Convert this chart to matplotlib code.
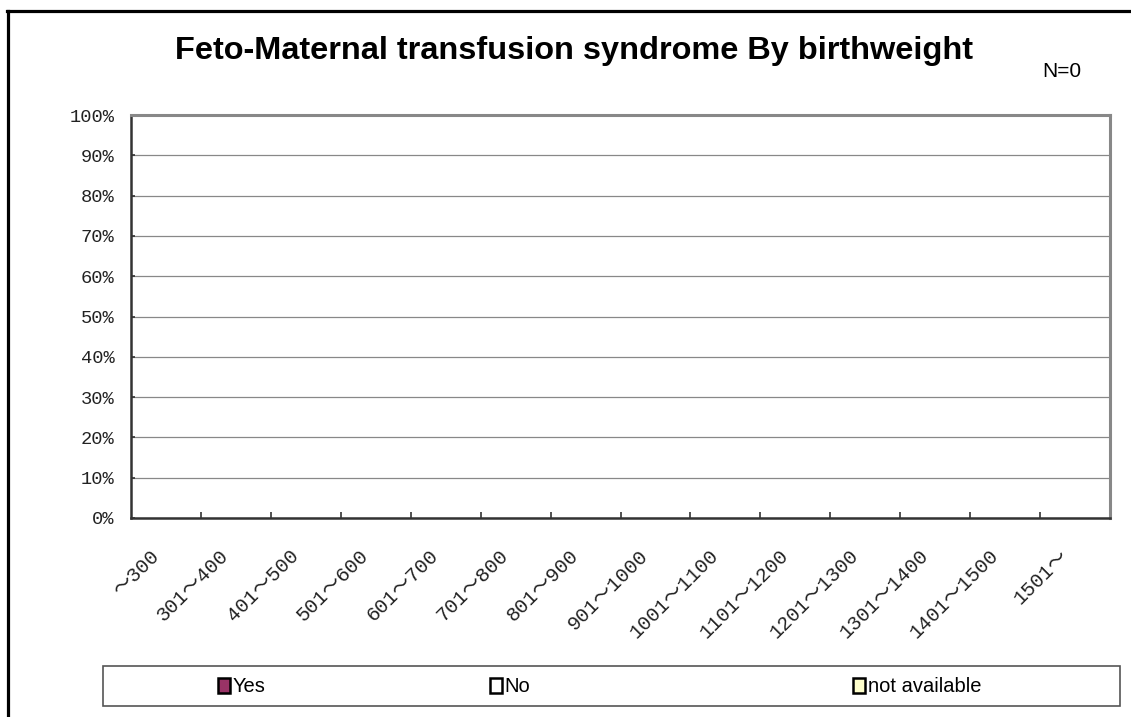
import matplotlib
matplotlib.use("Agg")
import matplotlib.pyplot as plt
from matplotlib.lines import Line2D
from matplotlib.patches import Rectangle, Patch
import matplotlib.transforms as mtransforms

# ---------------- data ----------------
categories = ["～300", "301～400", "401～500", "501～600", "601～700", "701～800",
              "801～900", "901～1000", "1001～1100", "1101～1200", "1201～1300",
              "1301～1400", "1401～1500", "1501～"]
yes_vals = [0, 0, 0, 0, 0, 0, 0, 0, 0, 0, 0, 0, 0, 0]
no_vals = [0, 0, 0, 0, 0, 0, 0, 0, 0, 0, 0, 0, 0, 0]
na_vals = [0, 0, 0, 0, 0, 0, 0, 0, 0, 0, 0, 0, 0, 0]
series_names = ["Yes", "No", "not available"]
series_colors = ["#993366", "#FFFFFF", "#FFFFCC"]
y_ticks = [0.0, 0.1, 0.2, 0.3, 0.4, 0.5, 0.6, 0.7, 0.8, 0.9, 1.0]
y_ticklabels = ["0%", "10%", "20%", "30%", "40%", "50%", "60%", "70%", "80%", "90%", "100%"]
title = "Feto-Maternal transfusion syndrome By birthweight"
n_text = "N=0"

W, H = 1131, 717
fig = plt.figure(figsize=(W / 100, H / 100), dpi=100)
fig.patch.set_facecolor("white")

ax = fig.add_axes([131 / W, 1 - 518 / H, (1110 - 131) / W, (518 - 115) / H])

x = [i + 0.5 for i in range(len(categories))]
ax.bar(x, yes_vals, width=0.5, color=series_colors[0], linewidth=0)
ax.bar(x, no_vals, width=0.5, bottom=yes_vals, color=series_colors[1], linewidth=0)
bottom3 = [a + b for a, b in zip(yes_vals, no_vals)]
ax.bar(x, na_vals, width=0.5, bottom=bottom3, color=series_colors[2], linewidth=0)

mono = ["Liberation Mono", "Noto Sans CJK JP"]

ax.set_xlim(0, len(categories))
ax.set_ylim(0, 1)
ax.set_yticks(y_ticks)
ax.set_yticklabels(y_ticklabels, family=mono, fontsize=13.5, color="#222222")
ax.yaxis.grid(True, color="#888888", linewidth=0.9)
ax.set_axisbelow(True)
ax.tick_params(axis="y", direction="in", length=3, width=1.2, color="#333333", pad=12)

ax.set_xticks(x)
ax.set_xticklabels(categories, rotation=45, ha="right", va="center", rotation_mode="anchor",
                   family=mono, fontsize=14.5, color="#222222")
ax.tick_params(axis="x", which="major", length=0, pad=25)
ax.set_xticks(list(range(1, len(categories))), minor=True)
ax.tick_params(axis="x", which="minor", direction="in", length=4, width=1.2, color="#333333")
offset = mtransforms.ScaledTranslation(-10 / 100, 0, fig.dpi_scale_trans)
for lab in ax.get_xticklabels():
    lab.set_transform(lab.get_transform() + offset)

for s in ["left", "bottom"]:
    ax.spines[s].set_color("#333333")
    ax.spines[s].set_linewidth(1.8)
for s in ["top", "right"]:
    ax.spines[s].set_color("#888888")
    ax.spines[s].set_linewidth(2.2)

# title and N
fig.text(574 / W, 1 - 59 / H, title, ha="center", va="baseline",
         family="Liberation Sans", fontweight="bold", fontsize=23.4)
fig.text(1042 / W, 1 - 77 / H, n_text, ha="left", va="baseline",
         family="Liberation Sans", fontsize=15)

# outer frame (left and top edges visible)
fig.add_artist(Line2D([7.5 / W, 7.5 / W], [0, 1 - 10.5 / H], color="black", linewidth=2.3,
                      transform=fig.transFigure))
fig.add_artist(Line2D([6.5 / W, 1], [1 - 10.5 / H, 1 - 10.5 / H], color="black", linewidth=2.3,
                      transform=fig.transFigure))

# legend box
fig.add_artist(Rectangle((103 / W, 1 - 706 / H), (1120 - 103) / W, 40 / H,
                         facecolor="white", edgecolor="#555555", linewidth=1.2,
                         transform=fig.transFigure))
lefts = [218, 490, 853]
for color, name, lx in zip(series_colors, series_names, lefts):
    h = Patch(facecolor=color, edgecolor="black", linewidth=1.8)
    fig.legend([h], [name], loc="center left", bbox_to_anchor=(lx / W, 1 - 687 / H),
               bbox_transform=fig.transFigure, frameon=False, borderpad=0,
               borderaxespad=0, handlelength=0.6, handleheight=0.72,
               handletextpad=0.12, prop={"family": "Liberation Sans", "size": 14.5})

fig.savefig("out.png", dpi=100, facecolor="white")
